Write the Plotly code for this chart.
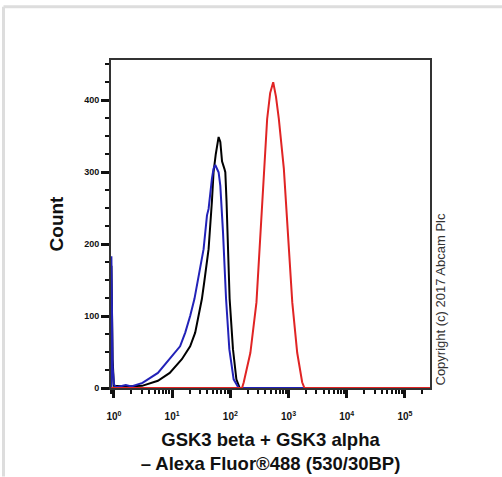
import plotly.graph_objects as go

# fluorescence intensity (log axis) and event counts
black_x = [0.9, 0.905, 0.95, 1.0, 1.6, 3.05, 5.7, 9.1, 14.7, 20.4, 24.9, 28.4, 32.5, 35.6,
           42.3, 48.3, 51.5, 56.2, 59, 62.9, 67.3, 72, 78.9, 82, 86, 88.7, 97.2, 111,
           127, 145, 300000]
black_y = [0, 170, 40, 3, 2, 3, 10, 21, 40, 58, 77, 100, 124, 147,
           193, 260, 300, 325, 337, 349, 342, 315, 305, 300, 260, 217, 124, 54,
           12, 0, 0]

blue_x = [0.9, 0.905, 0.95, 1.0, 1.1, 1.6, 2.0, 3.1, 5.7, 9.1, 13.7, 16.8, 20.4, 24.2,
          27.3, 30.4, 34.7, 39.7, 42.3, 48.3, 51.5, 55.1, 62.9, 67.3, 72, 74.8, 84.4,
          96.1, 114, 139, 300000]
blue_y = [0, 183, 30, 5, 1, 4, 2, 7, 21, 40, 58, 77, 100, 124,
          147, 170, 193, 240, 249, 291, 305, 310, 300, 281, 249, 217, 124,
          54, 12, 0, 0]

red_x = [0.9, 159, 170, 221, 281, 329, 375, 429, 483, 545, 608, 681, 830, 973,
         1159, 1409, 1714, 1876, 300000]
red_y = [0, 0, 8, 49, 119, 212, 305, 374, 410, 425, 405, 374, 305, 212,
         119, 49, 8, 0, 0]

x_ticks = [1, 10, 100, 1000, 10000, 100000]
x_labels = ["<b>10<sup>%d</sup></b>" % i for i in range(6)]
x_minor = [m * 10 ** d for d in range(-1, 6) for m in range(2, 10)]
y_ticks = [0, 100, 200, 300, 400]
y_labels = ["<b>%d</b>" % v for v in y_ticks]

fig = go.Figure()
fig.add_trace(go.Scatter(x=black_x, y=black_y, mode="lines",
                         line=dict(color="#000000", width=2)))
fig.add_trace(go.Scatter(x=blue_x, y=blue_y, mode="lines",
                         line=dict(color="#2222b8", width=2)))
fig.add_trace(go.Scatter(x=red_x, y=red_y, mode="lines",
                         line=dict(color="#e02424", width=2)))

fig.update_xaxes(
    type="log", range=[-0.05, 5.43], automargin=False,
    tickmode="array", tickvals=x_ticks, ticktext=x_labels,
    ticks="outside", ticklen=8, tickwidth=3, tickcolor="#111",
    minor=dict(tickmode="array", tickvals=x_minor, ticks="outside",
               ticklen=4, tickwidth=1.5, tickcolor="#111"),
    showgrid=False, zeroline=False,
    showline=True, linecolor="#333", linewidth=2, mirror=True,
    ticklabelstandoff=10,
    tickfont=dict(family="Arial, Liberation Sans", size=10, color="#111"),
    title=dict(text="<b>GSK3 beta + GSK3 alpha<br>– Alexa Fluor®488 (530/30BP)</b>",
               font=dict(family="Arial, Liberation Sans", size=18.5, color="#111"),
               standoff=12),
)
fig.update_yaxes(
    range=[0, 456], automargin=False,
    tickmode="array", tickvals=y_ticks, ticktext=y_labels,
    ticks="outside", ticklen=8, tickwidth=3, tickcolor="#111",
    minor=dict(dtick=25, ticks="outside", ticklen=4, tickwidth=1.5, tickcolor="#111"),
    showgrid=False, zeroline=False,
    showline=True, linecolor="#333", linewidth=2, mirror=True,
    tickfont=dict(family="Arial, Liberation Sans", size=9, color="#111"),
    title=dict(text="<b>Count</b>",
               font=dict(family="Arial, Liberation Sans", size=19, color="#111"),
               standoff=16),
)

fig.add_annotation(text="Copyright (c) 2017 Abcam Plc", textangle=-90,
                   xref="paper", yref="paper", x=1.0, y=0.0,
                   xanchor="left", yanchor="bottom", showarrow=False,
                   font=dict(family="Arial, Liberation Sans", size=13, color="#333"))

# faint frame around the whole picture
fig.add_shape(type="line", xref="paper", yref="paper",
              x0=-0.337, x1=1.25, y0=1.1625, y1=1.1625,
              line=dict(color="#dddddd", width=3))
fig.add_shape(type="line", xref="paper", yref="paper",
              x0=-0.337, x1=-0.337, y0=1.1625, y1=-0.27,
              line=dict(color="#dddddd", width=3))

fig.update_layout(
    width=502, height=477,
    margin=dict(l=111, r=72, t=60, b=89),
    paper_bgcolor="white", plot_bgcolor="white",
    showlegend=False,
)

fig.write_html("out.html", config={"displayModeBar": False},
               post_script="document.body.style.margin='0px';")
